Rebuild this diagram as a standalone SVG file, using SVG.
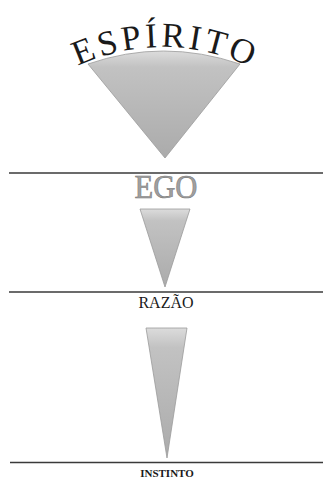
<svg xmlns="http://www.w3.org/2000/svg" xmlns:xlink="http://www.w3.org/1999/xlink" width="323" height="480" viewBox="0 0 323 480">
  <style>
    .rule { stroke: #3a3a3a; stroke-width: 1.3; fill: none; }
    .cone { fill: url(#g); stroke: #9a9a9a; stroke-width: 0.8; }
    .serif { font-family: "Liberation Serif", "Times New Roman", serif; }
  </style>
  <defs>
    <linearGradient id="g" x1="0" y1="0" x2="0" y2="1">
      <stop offset="0" stop-color="#dcdcdc"/>
      <stop offset="0.15" stop-color="#c2c2c2"/>
      <stop offset="1" stop-color="#ababab"/>
    </linearGradient>
    <path id="arc" d="M48.3,83.2 A200,200 0 0 1 277.7,83.2"/>
  </defs>
  <rect width="323" height="480" fill="#ffffff"/>

  <g id="espirito">
    <path class="cone" d="M88,64 Q163,38 240,64 L165,158 Z"/>
    <text class="serif" font-size="35" fill="#1a1a1a" letter-spacing="3.5" text-anchor="middle">
      <textPath xlink:href="#arc" href="#arc" startOffset="51%">ESPÍRITO</textPath>
    </text>
  </g>

  <g id="ego">
    <text class="serif" x="166" y="198" font-size="34" textLength="63" lengthAdjust="spacingAndGlyphs" text-anchor="middle" fill="#a0a0a0" stroke="#7a7a7a" stroke-width="0.6">EGO</text>
    <path class="cone" d="M140,209 L190,209 L165,287 Z"/>
  </g>

  <g id="razao">
    <text class="serif" x="166" y="308" font-size="16" text-anchor="middle" fill="#1a1a1a">RAZÃO</text>
    <path class="cone" d="M146,328 L187,328 L167,458 Z"/>
  </g>

  <g id="instinto">
    <text class="serif" x="167" y="477" font-size="11" font-weight="bold" text-anchor="middle" fill="#1a1a1a">INSTINTO</text>
  </g>

  <g id="connectors">
    <line class="rule" x1="9" y1="173" x2="323" y2="173"/>
    <line class="rule" x1="9" y1="292" x2="323" y2="292"/>
    <line class="rule" x1="10" y1="462.5" x2="323" y2="462.5"/>
  </g>
</svg>
